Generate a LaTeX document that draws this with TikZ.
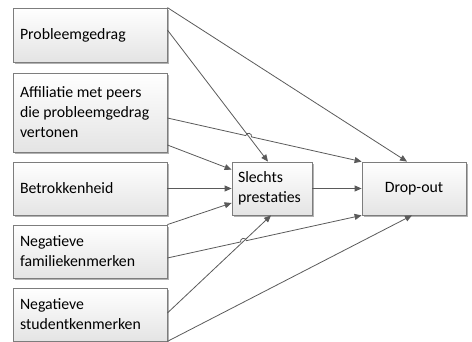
\documentclass[tikz,border=0pt]{standalone}
\usepackage{fontspec}
\setmainfont{Carlito}
\usetikzlibrary{arrows.meta,calc,intersections,shadows}
\definecolor{boxline}{RGB}{125,125,125}
\definecolor{boxbot}{RGB}{228,228,228}
\definecolor{shadowc}{RGB}{178,178,178}
\definecolor{linec}{RGB}{90,90,90}
\begin{document}
\begin{tikzpicture}[x=1pt,y=1pt,
  box/.style={draw=boxline, line width=0.8pt, top color=white, bottom color=boxbot,
    drop shadow={shadow xshift=2pt, shadow yshift=-2pt, fill=shadowc, opacity=1},
    font=\fontsize{15.8}{20}\selectfont, inner ysep=0pt},
  lbox/.style={box, text width=140pt, inner xsep=7pt, align=flush left},
  conn/.style={draw=linec, line width=0.8pt, -{Triangle[length=7pt,width=6pt]}}]
\useasboundingbox (0,0) rectangle (472,342);
\node[lbox, minimum height=54pt] (p1) at (90,307) {Probleemgedrag};
\node[lbox, minimum height=79pt] (p2) at (90,229.5) {Affiliatie met peers\\die probleemgedrag\\vertonen};
\node[lbox, minimum height=53pt] (p3) at (90,153.5) {Betrokkenheid};
\node[lbox, minimum height=53pt] (p4) at (90,90.5) {Negatieve\\familiekenmerken};
\node[lbox, minimum height=53pt] (p5) at (90,27.5) {Negatieve\\studentkenmerken};
\node[box, text width=68pt, inner xsep=6pt, align=flush left, minimum height=53pt] (sp) at (272,153.5) {Slechts\\prestaties};
\node[box, minimum width=104pt, minimum height=53pt, align=center] (do) at (414,153.5) {Drop-out};

\path[name path=lA] ($(p1.east)+(0,5)$) -- ($(sp.north)+(-4,0)$);
\path[name path=lB] ($(p2.east)+(0,-5.5)$) -- (do.north west);
\path[name intersections={of=lA and lB, by=xAB}];
\path[name path=lC] ($(p4.east)+(0,-6.5)$) -- (do.south west);
\path[name path=lD] ($(p5.east)+(0,1.5)$) -- ($(sp.south)+(-1,0)$);
\path[name intersections={of=lC and lD, by=xCD}];

\draw[conn] (p1.north east) -- ($(do.north)+(-7,0)$);
\draw[conn] ($(p1.east)+(0,5)$) -- ($(sp.north)+(-4,0)$);
\draw[conn] let \p1=($(p2.east)+(0,-5.5)$), \p2=(do.north west), \n1={atan2(\y2-\y1,\x2-\x1)} in
  (\p1) -- ($(xAB)!3pt!(\p1)$) arc[start angle=\n1+180, end angle=\n1, radius=3pt] -- (\p2);
\draw[conn] ($(p2.east)+(0,-32.5)$) -- ($(sp.north west)+(0,-8)$);
\draw[conn] (p3.east) -- (sp.west);
\draw[conn] (p4.north east) -- ($(sp.west)+(0,-14.5)$);
\draw[conn] let \p1=($(p4.east)+(0,-6.5)$), \p2=(do.south west), \n1={atan2(\y2-\y1,\x2-\x1)} in
  (\p1) -- ($(xCD)!3pt!(\p1)$) arc[start angle=\n1+180, end angle=\n1, radius=3pt] -- (\p2);
\draw[conn] ($(p5.east)+(0,1.5)$) -- ($(sp.south)+(-1,0)$);
\draw[conn] (p5.south east) -- ($(do.south)+(-2,0)$);
\draw[conn] (sp.east) -- (do.west);
\end{tikzpicture}
\end{document}
